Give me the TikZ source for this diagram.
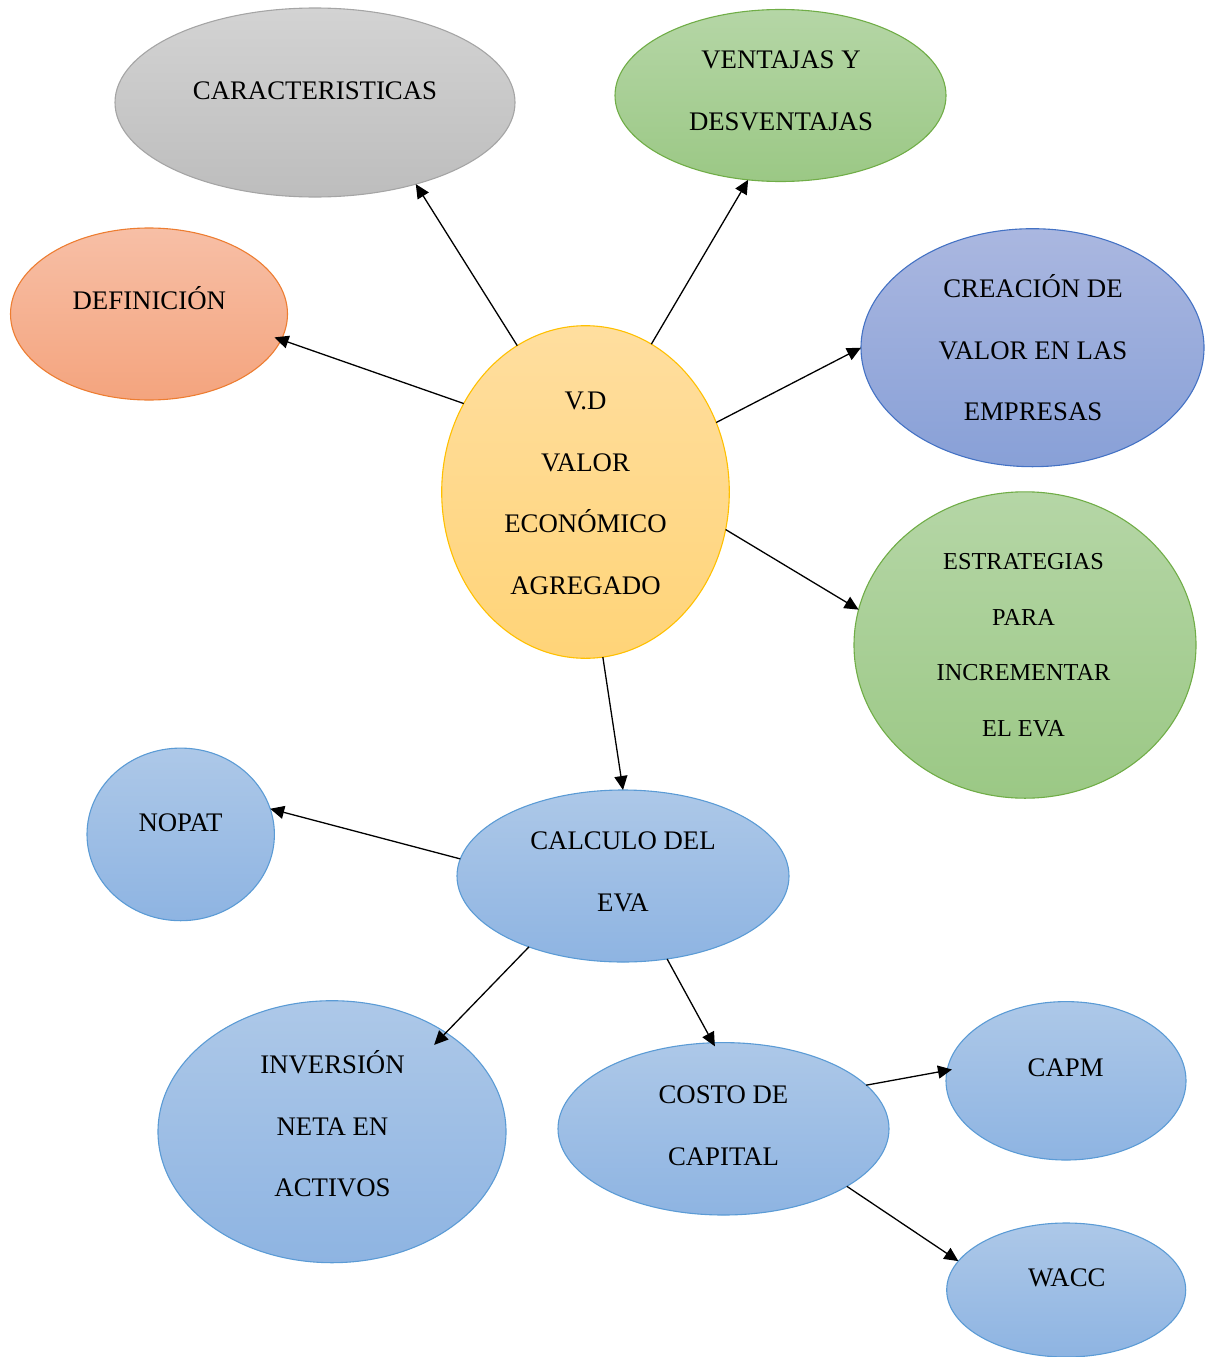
\documentclass[tikz,border=0pt]{standalone}
\usepackage{fontspec}
\setmainfont{Liberation Serif}
\usetikzlibrary{shapes.geometric,arrows.meta}
\definecolor{grayT}{HTML}{D3D3D3}\definecolor{grayB}{HTML}{BDBDBD}\definecolor{grayL}{HTML}{A5A5A5}
\definecolor{grnT}{HTML}{B5D6A6}\definecolor{grnB}{HTML}{9BC885}\definecolor{grnL}{HTML}{70AD47}
\definecolor{orT}{HTML}{F7BFA6}\definecolor{orB}{HTML}{F4A47E}\definecolor{orL}{HTML}{ED7D31}
\definecolor{yeT}{HTML}{FFDE9F}\definecolor{yeB}{HTML}{FFD478}\definecolor{yeL}{HTML}{FFC000}
\definecolor{puT}{HTML}{AAB7E0}\definecolor{puB}{HTML}{88A0D7}\definecolor{puL}{HTML}{4472C4}
\definecolor{blT}{HTML}{ADC8E8}\definecolor{blB}{HTML}{8EB4E2}\definecolor{blL}{HTML}{5B9BD5}
\begin{document}
\begin{tikzpicture}[x=1pt,y=-1pt,
  oval/.style={ellipse, inner sep=0pt, outer sep=0pt, line width=1.1pt},
  grayoval/.style={oval, draw=grayL, top color=grayT, bottom color=grayB},
  grnoval/.style={oval, draw=grnL, top color=grnT, bottom color=grnB},
  oroval/.style={oval, draw=orL, top color=orT, bottom color=orB},
  yeoval/.style={oval, draw=yeL, top color=yeT, bottom color=yeB},
  puoval/.style={oval, draw=puL, top color=puT, bottom color=puB},
  bloval/.style={oval, draw=blL, top color=blT, bottom color=blB},
  lbl/.style={align=center, inner sep=0pt, font=\fontsize{26.8}{61.5}\selectfont},
  lblsmall/.style={align=center, inner sep=0pt, font=\fontsize{24.3}{55.5}\selectfont},
  conn/.style={-{Triangle[length=14pt,width=13pt]}, line width=1.3pt, black}]
\useasboundingbox (0,0) rectangle (1205,1357);
% ellipses
\node[grayoval, minimum width=400pt, minimum height=189pt] (car) at (315,102.5) {};
\node[grnoval, minimum width=331pt, minimum height=172pt] (ven) at (780.5,95.5) {};
\node[oroval, minimum width=277pt, minimum height=172pt] (def) at (149,314) {};
\node[yeoval, minimum width=287.6pt, minimum height=332.6pt] (vd) at (585.5,492) {};
\node[puoval, minimum width=343pt, minimum height=238pt] (cre) at (1032.5,347.7) {};
\node[grnoval, minimum width=342pt, minimum height=306.4pt] (est) at (1025,645) {};
\node[bloval, minimum width=187.4pt, minimum height=172.6pt] (nop) at (180.7,834.4) {};
\node[bloval, minimum width=332pt, minimum height=172pt] (cal) at (623,876) {};
\node[bloval, minimum width=348pt, minimum height=262pt] (inv) at (332,1131.7) {};
\node[bloval, minimum width=331pt, minimum height=172.4pt] (cos) at (723.5,1128.8) {};
\node[bloval, minimum width=240pt, minimum height=158.4pt] (capm) at (1066,1080.8) {};
\node[bloval, minimum width=239pt, minimum height=134pt] (wacc) at (1066.2,1290) {};
% connectors
\draw[conn] (vd.115.8) -- (car.-39.3);
\draw[conn] (vd.66.5) -- (ven.249.6);
\draw[conn, shorten >=-7pt] (vd.144.7) -- (def.-11);
\draw[conn] (vd.28.9) -- (cre.180.5);
\draw[conn] (vd.-15.9) -- (est.168.4);
\draw[conn] (vd.-84.3) -- (cal.90);
\draw[conn] (cal.174.2) -- (nop.16.7);
\draw[conn, shorten >=-17pt] (cal.217.7) -- (inv.41.3);
\draw[conn, shorten >=-4pt] (cal.-62.7) -- (cos.97.7);
\draw[conn, shorten >=-5pt] (cos.17) -- (capm.175.4);
\draw[conn] (cos.-25.6) -- (wacc.165.8);
% labels
\node[lbl] (carT) at (315,90.5) {CARACTERISTICAS};
\node[lbl] (venT) at (781,91) {VENTAJAS Y\\DESVENTAJAS};
\node[lbl] (defT) at (149.3,298) {DEFINICIÓN};
\node[lbl] (vdT) at (585.5,493.5) {V.D\\VALOR\\ECONÓMICO\\AGREGADO};
\node[lbl] (creT) at (1033,347.8) {CREACIÓN DE\\VALOR EN LAS\\EMPRESAS};
\node[lblsmall] (estT) at (1023.5,645.2) {ESTRATEGIAS\\PARA\\INCREMENTAR\\EL EVA};
\node[lbl] (nopT) at (180.5,822.5) {NOPAT};
\node[lbl] (calT) at (623,872) {CALCULO DEL\\EVA};
\node[lbl] (invT) at (332.5,1123.8) {INVERSIÓN\\NETA EN\\ACTIVOS};
\node[lbl] (cosT) at (723.5,1125.6) {COSTO DE\\CAPITAL};
\node[lbl] (capmT) at (1065.6,1067.3) {CAPM};
\node[lbl] (waccT) at (1066.8,1278) {WACC};
\end{tikzpicture}
\end{document}
